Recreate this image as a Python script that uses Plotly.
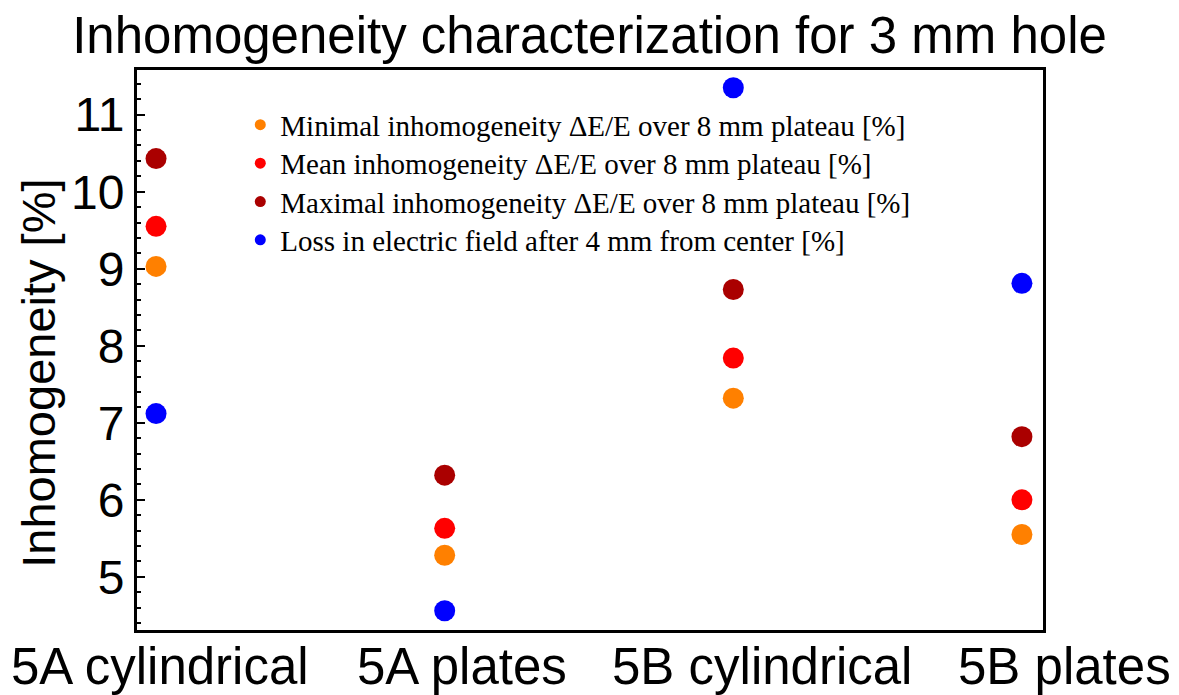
import plotly.graph_objects as go

categories = ["5A cylindrical", "5A plates", "5B cylindrical", "5B plates"]
min_inhom = [9.03, 5.28, 7.32, 5.55]
mean_inhom = [9.55, 5.63, 7.84, 6.00]
max_inhom = [10.43, 6.32, 8.73, 6.82]
field_loss = [7.12, 4.56, 11.35, 8.81]

# horizontal centres of the category captions under the frame (fraction of plot width)
caption_pos = [0.0254, 0.3582, 0.6898, 1.0232]

series_names = [
    "Minimal inhomogeneity \u0394E/E over 8 mm plateau [%]",
    "Mean inhomogeneity \u0394E/E over 8 mm plateau [%]",
    "Maximal inhomogeneity \u0394E/E over 8 mm plateau [%]",
    "Loss in electric field after 4 mm from center [%]",
]
series_values = [min_inhom, mean_inhom, max_inhom, field_loss]
series_colors = ["#FF8000", "#FF0000", "#AA0000", "#0000FF"]
legend_ids = ["legend", "legend2", "legend3", "legend4"]
legend_rows = [0.902, 0.8334, 0.7648, 0.6964]

x_idx = list(range(len(categories)))

fig = go.Figure()
for name, vals, col, lid in zip(series_names, series_values, series_colors, legend_ids):
    fig.add_trace(go.Scatter(
        x=x_idx, y=vals, mode="markers", name=name, showlegend=False,
        marker=dict(size=21, color=col),
    ))
    # small dot used only as the legend swatch
    fig.add_trace(go.Scatter(
        x=[None], y=[None], mode="markers", name=name, showlegend=True,
        legend=lid, marker=dict(size=11, color=col),
    ))

legend_style = dict(
    x=0.114, xanchor="left", yanchor="middle",
    bgcolor="rgba(0,0,0,0)",
    font=dict(family="Liberation Serif, Times New Roman, serif", size=29, color="black"),
    itemwidth=30,
)

fig.update_layout(
    width=1179, height=695,
    margin=dict(l=137, r=136, t=70, b=65),
    paper_bgcolor="white", plot_bgcolor="white",
    font=dict(family="Liberation Sans, Arial, sans-serif", color="black"),
    title=dict(
        text="Inhomogeneity characterization for 3 mm hole",
        x=0.5, xanchor="center", y=0.949, yanchor="middle",
        font=dict(size=51, color="black"),
    ),
    showlegend=True,
)
for lid, ly in zip(legend_ids, legend_rows):
    fig.update_layout({lid: dict(legend_style, y=ly)})

fig.update_xaxes(
    range=[-0.066, 3.073], automargin=False,
    tickmode="array", tickvals=x_idx, showticklabels=False, ticks="",
    showgrid=False, zeroline=False,
    showline=True, linecolor="black", linewidth=3, mirror=True,
)
fig.update_yaxes(
    range=[4.31, 11.58], automargin=False,
    tickmode="array", tickvals=[5, 6, 7, 8, 9, 10, 11],
    tickfont=dict(size=48), ticks="inside", ticklen=8, tickwidth=2, tickcolor="black",
    minor=dict(ticks="inside", ticklen=4, tickwidth=2, tickcolor="black", dtick=0.2, showgrid=False),
    showgrid=False, zeroline=False,
    showline=True, linecolor="black", linewidth=3, mirror=True,
)

for cat, px in zip(categories, caption_pos):
    fig.add_annotation(
        text=cat, xref="paper", yref="paper", x=px, y=-0.066,
        xanchor="center", yanchor="middle", showarrow=False,
        font=dict(size=51, color="black"),
    )

fig.add_annotation(
    text="Inhomogeneity [%]", textangle=-90,
    xref="paper", yref="paper", x=-0.109, y=0.458,
    xanchor="center", yanchor="middle", showarrow=False,
    font=dict(size=47, color="black"),
)

fig.write_html("out.html")
